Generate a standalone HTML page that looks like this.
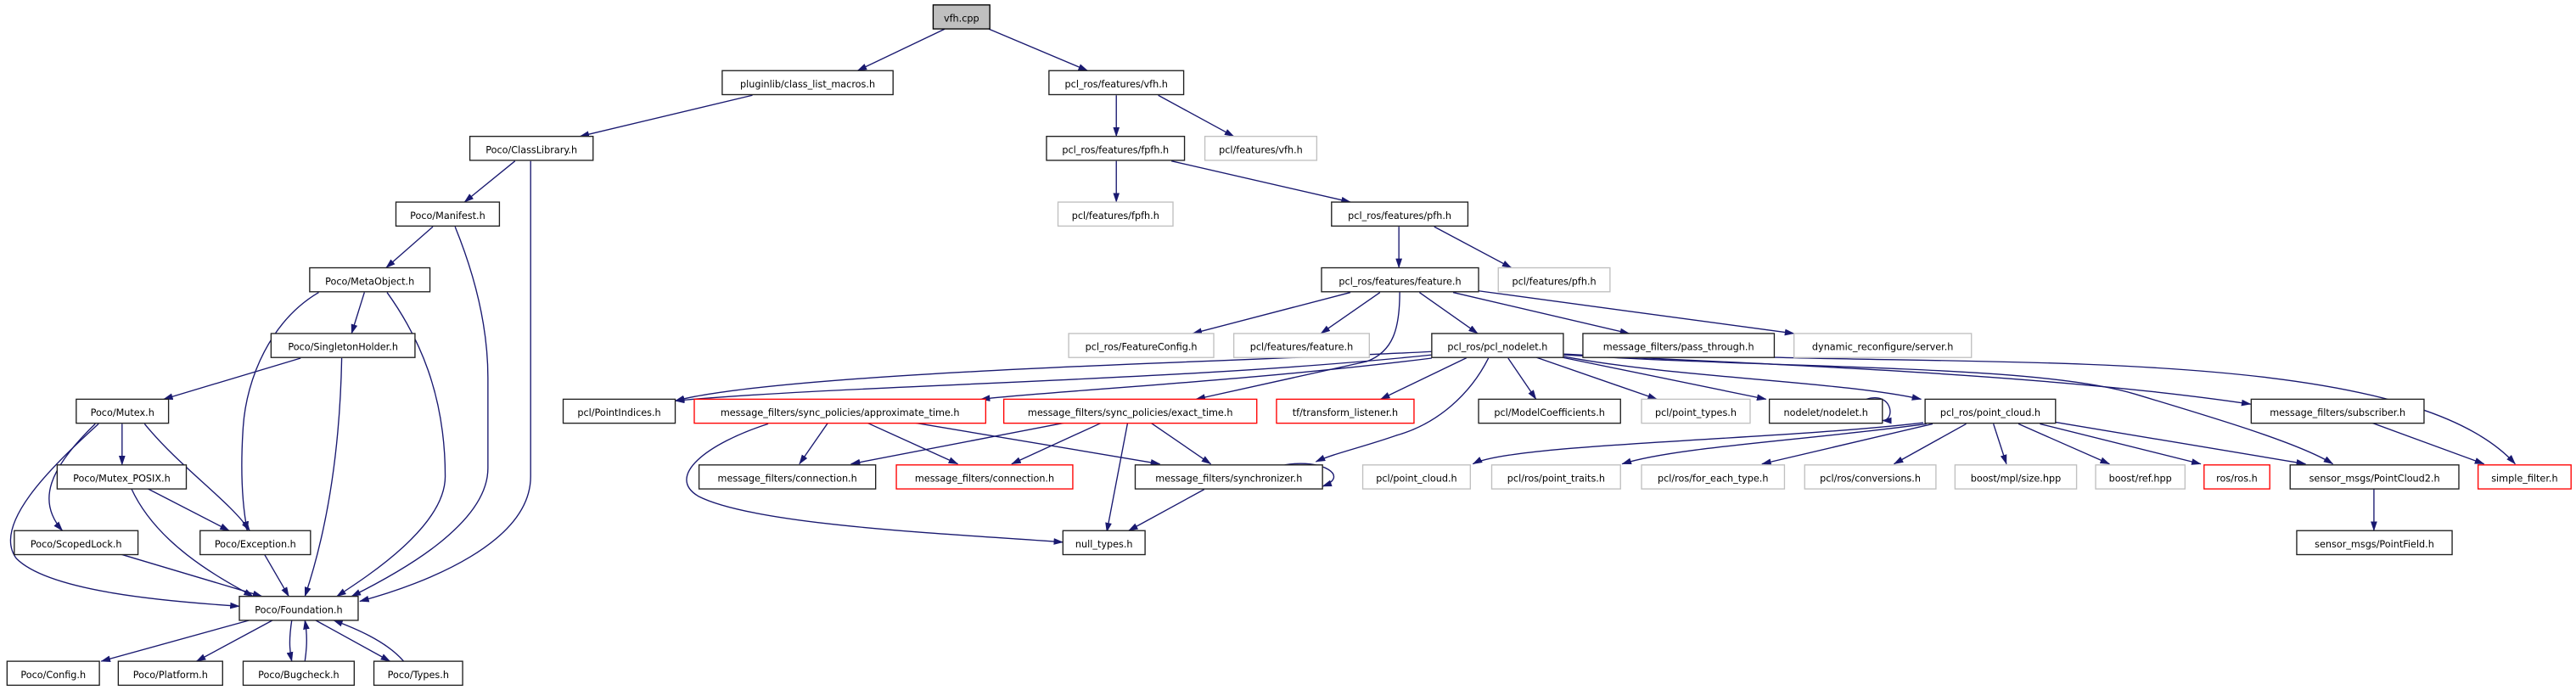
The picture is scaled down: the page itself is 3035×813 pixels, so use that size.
<!DOCTYPE html>
<html><head><meta charset="utf-8"><style>
html,body{margin:0;padding:0;background:#fff;}
svg{display:block;}
text{font-family:"DejaVu Sans","Liberation Sans",sans-serif;font-size:5.8px;fill:#000;text-anchor:middle;}
.b{fill:#fff;stroke:#202020;stroke-width:0.7;}
.g{fill:#fff;stroke:#c0c0c0;stroke-width:0.7;}
.r{fill:#fff;stroke:#ff0000;stroke-width:0.7;}
.e{fill:none;stroke:#191970;stroke-width:0.7;marker-end:url(#a);}
</style></head><body>
<svg width="3035" height="813" viewBox="0 0 1568 420" preserveAspectRatio="none" xmlns="http://www.w3.org/2000/svg">
<defs><marker id="a" markerUnits="userSpaceOnUse" markerWidth="6" markerHeight="4" refX="5.6" refY="2" orient="auto"><path d="M0,0 L6,2 L0,4 z" fill="#191970"/></marker></defs>
<rect width="1568" height="420" fill="#fff"/>
<g>
<path class="e" d="M602,17.7 L662,43"/>
<path class="e" d="M575,17.7 L522,43"/>
<path class="e" d="M458,58 L353,83"/>
<path class="e" d="M679.5,58 L679.5,83"/>
<path class="e" d="M705,58 L751,83"/>
<path class="e" d="M679.5,98 L679.5,123"/>
<path class="e" d="M713,98 L822,123"/>
<path class="e" d="M313.5,98 L282.7,123"/>
<path class="e" d="M323,98 L323,290 C323,330 260,355 219,366"/>
<path class="e" d="M263.5,138 L235,163"/>
<path class="e" d="M277,138 C290,170 297,200 297,230 L297,285 C297,320 240,350 214,363"/>
<path class="e" d="M851.5,138 L851.5,163"/>
<path class="e" d="M873,138 L920,163"/>
<path class="e" d="M221.8,178 L214,203"/>
<path class="e" d="M194,178 C165,195 150,230 148,260 C146,290 148,310 150.5,323"/>
<path class="e" d="M235.6,178 C255,205 271,240 271,290 C271,320 225,350 205,363"/>
<path class="e" d="M183,218 L99.6,243"/>
<path class="e" d="M208,218 C207,270 200,320 185.6,363"/>
<path class="e" d="M74.3,258 L74.3,283"/>
<path class="e" d="M88,258 C110,285 140,305 152,323"/>
<path class="e" d="M58,258 C30,285 22,305 38,323"/>
<path class="e" d="M60,258 C30,285 -5,320 10,340 C30,360 100,366 145.7,369"/>
<path class="e" d="M90,297.5 L139.5,323"/>
<path class="e" d="M80,297.5 C95,330 130,350 154,363"/>
<path class="e" d="M74,337.5 L159.5,363"/>
<path class="e" d="M161,337.5 L175.8,363"/>
<path class="e" d="M152,377.5 L61.6,402.5"/>
<path class="e" d="M166,377.5 L119.6,402.5"/>
<path class="e" d="M177.6,377.5 C176,388 176,395 177.6,402.5"/>
<path class="e" d="M185.6,402.5 C187,393 187,386 185.6,377.5"/>
<path class="e" d="M192,377.5 L237.4,402.5"/>
<path class="e" d="M245.7,402.5 C235,390 215,382 203,377.5"/>
<path class="e" d="M822,178 L726,203"/>
<path class="e" d="M840,178 L804,203"/>
<path class="e" d="M864,178 L899.5,203"/>
<path class="e" d="M884.5,178 L991.7,203"/>
<path class="e" d="M899.5,177 L1092,203"/>
<path class="e" d="M852,178 C852,200 848,214 832,220 L728,243"/>
<path class="e" d="M871.5,214 C760,220 480,226 411,244"/>
<path class="e" d="M871.5,216 C720,232 520,234 411,244"/>
<path class="e" d="M871.5,218 C760,232 640,238 597,243"/>
<path class="e" d="M892.7,217.8 L840.4,243"/>
<path class="e" d="M918,218 L935,243"/>
<path class="e" d="M906,218 C895,240 875,258 850,265 C830,272 812,276 801,281"/>
<path class="e" d="M935,217.5 L1008.6,243"/>
<path class="e" d="M950.6,217.5 L1075,243"/>
<path class="e" d="M952,217 C1020,230 1120,232 1169.4,243"/>
<path class="e" d="M952,216 C1100,225 1240,222 1300,240 C1350,255 1400,270 1420,282.4"/>
<path class="e" d="M952,215.5 C1080,222 1250,228 1370,246"/>
<path class="e" d="M1080,217.5 C1250,222 1470,215 1531,282.4"/>
<path class="e" d="M1136,243 C1152,238 1154,256 1145.8,256"/>
<path class="e" d="M1170.7,257.3 C1080,268 920,270 896.6,282.4"/>
<path class="e" d="M1172.6,258 C1100,268 1020,272 987.4,282.4"/>
<path class="e" d="M1176.4,258 L1072.5,282.4"/>
<path class="e" d="M1196.8,258 L1152.9,282.4"/>
<path class="e" d="M1213.4,258 L1221.3,282.4"/>
<path class="e" d="M1228.6,258 L1284,282.4"/>
<path class="e" d="M1241.7,258 L1339.6,282.4"/>
<path class="e" d="M1251,257 L1403.4,282.4"/>
<path class="e" d="M1443.5,257.3 L1512,282.4"/>
<path class="e" d="M1445,297.5 L1445,323"/>
<path class="e" d="M467.6,258 C430,270 405,290 425,302 C460,320 580,325 647,330"/>
<path class="e" d="M504,257.3 L486.6,282.4"/>
<path class="e" d="M527.7,257.3 L583,282.4"/>
<path class="e" d="M556.4,257.3 L706,282.4"/>
<path class="e" d="M648.4,257.3 L518,282.4"/>
<path class="e" d="M670.6,257.3 L615.8,282.4"/>
<path class="e" d="M686.4,257.3 L673.7,323.8"/>
<path class="e" d="M700.4,257.3 L737,282.4"/>
<path class="e" d="M733,297.9 L687,323"/>
<path class="e" d="M782,283 C805,279 822,290 805,296"/>
</g>
<g>
<rect x="568" y="3" width="34.5" height="14.6" fill="#bfbfbf" stroke="#000" stroke-width="0.7"/><text x="585.25" y="13.2">vfh.cpp</text>
<rect class="b" x="439.6" y="43" width="104" height="14.6"/><text x="491.6" y="53.2">pluginlib/class_list_macros.h</text>
<rect class="b" x="638.5" y="43" width="82" height="14.6"/><text x="679.5" y="53.2">pcl_ros/features/vfh.h</text>
<rect class="b" x="286" y="83" width="75" height="14.6"/><text x="323.5" y="93.2">Poco/ClassLibrary.h</text>
<rect class="b" x="637" y="83" width="84" height="14.6"/><text x="679" y="93.2">pcl_ros/features/fpfh.h</text>
<rect class="g" x="733.4" y="83" width="68.1" height="14.6"/><text x="767.45" y="93.2">pcl/features/vfh.h</text>
<rect class="b" x="241" y="123" width="63" height="14.6"/><text x="272.5" y="133.2">Poco/Manifest.h</text>
<rect class="g" x="644" y="123" width="70" height="14.6"/><text x="679" y="133.2">pcl/features/fpfh.h</text>
<rect class="b" x="810.5" y="123" width="83" height="14.6"/><text x="852" y="133.2">pcl_ros/features/pfh.h</text>
<rect class="b" x="188.5" y="163" width="73.2" height="14.6"/><text x="225.1" y="173.2">Poco/MetaObject.h</text>
<rect class="b" x="804.4" y="163" width="95.6" height="14.6"/><text x="852.2" y="173.2">pcl_ros/features/feature.h</text>
<rect class="g" x="912" y="163" width="68" height="14.6"/><text x="946" y="173.2">pcl/features/pfh.h</text>
<rect class="b" x="165" y="203" width="87.6" height="14.6"/><text x="208.8" y="213.2">Poco/SingletonHolder.h</text>
<rect class="g" x="650.5" y="203" width="88.3" height="14.6"/><text x="694.65" y="213.2">pcl_ros/FeatureConfig.h</text>
<rect class="g" x="751" y="203" width="82.5" height="14.6"/><text x="792.25" y="213.2">pcl/features/feature.h</text>
<rect class="b" x="871.5" y="203" width="80.1" height="14.6"/><text x="911.55" y="213.2">pcl_ros/pcl_nodelet.h</text>
<rect class="b" x="963.5" y="203" width="116.5" height="14.6"/><text x="1021.75" y="213.2">message_filters/pass_through.h</text>
<rect class="g" x="1092" y="203" width="108" height="14.6"/><text x="1146" y="213.2">dynamic_reconfigure/server.h</text>
<rect class="b" x="46.4" y="243" width="56.2" height="14.6"/><text x="74.5" y="253.2">Poco/Mutex.h</text>
<rect class="b" x="342.8" y="243" width="68.2" height="14.6"/><text x="376.9" y="253.2">pcl/PointIndices.h</text>
<rect class="r" x="422.6" y="243" width="177.4" height="14.6"/><text x="511.3" y="253.2">message_filters/sync_policies/approximate_time.h</text>
<rect class="r" x="611" y="243" width="154" height="14.6"/><text x="688" y="253.2">message_filters/sync_policies/exact_time.h</text>
<rect class="r" x="777" y="243" width="83.7" height="14.6"/><text x="818.85" y="253.2">tf/transform_listener.h</text>
<rect class="b" x="900" y="243" width="86.4" height="14.6"/><text x="943.2" y="253.2">pcl/ModelCoefficients.h</text>
<rect class="g" x="999.2" y="243" width="66.1" height="14.6"/><text x="1032.25" y="253.2">pcl/point_types.h</text>
<rect class="b" x="1077" y="243" width="68.8" height="14.6"/><text x="1111.4" y="253.2">nodelet/nodelet.h</text>
<rect class="b" x="1171.8" y="243" width="79.4" height="14.6"/><text x="1211.5" y="253.2">pcl_ros/point_cloud.h</text>
<rect class="b" x="1370.3" y="243" width="105.2" height="14.6"/><text x="1422.9" y="253.2">message_filters/subscriber.h</text>
<rect class="b" x="34.8" y="283" width="78.6" height="14.6"/><text x="74.1" y="293.2">Poco/Mutex_POSIX.h</text>
<rect class="b" x="425.5" y="283" width="107.5" height="14.6"/><text x="479.25" y="293.2">message_filters/connection.h</text>
<rect class="r" x="545.6" y="283" width="107.4" height="14.6"/><text x="599.3" y="293.2">message_filters/connection.h</text>
<rect class="b" x="691" y="283" width="114" height="14.6"/><text x="748" y="293.2">message_filters/synchronizer.h</text>
<rect class="g" x="829.5" y="283" width="65.5" height="14.6"/><text x="862.25" y="293.2">pcl/point_cloud.h</text>
<rect class="g" x="908" y="283" width="78.4" height="14.6"/><text x="947.2" y="293.2">pcl/ros/point_traits.h</text>
<rect class="g" x="999.2" y="283" width="87" height="14.6"/><text x="1042.7" y="293.2">pcl/ros/for_each_type.h</text>
<rect class="g" x="1098.5" y="283" width="79.9" height="14.6"/><text x="1138.45" y="293.2">pcl/ros/conversions.h</text>
<rect class="g" x="1190" y="283" width="74" height="14.6"/><text x="1227" y="293.2">boost/mpl/size.hpp</text>
<rect class="g" x="1275.6" y="283" width="54.4" height="14.6"/><text x="1302.8" y="293.2">boost/ref.hpp</text>
<rect class="r" x="1341.6" y="283" width="40" height="14.6"/><text x="1361.6" y="293.2">ros/ros.h</text>
<rect class="b" x="1394" y="283" width="102.7" height="14.6"/><text x="1445.35" y="293.2">sensor_msgs/PointCloud2.h</text>
<rect class="r" x="1508.4" y="283" width="56.6" height="14.6"/><text x="1536.7" y="293.2">simple_filter.h</text>
<rect class="b" x="8.7" y="323" width="75.3" height="14.6"/><text x="46.35" y="333.2">Poco/ScopedLock.h</text>
<rect class="b" x="121.8" y="323" width="67.2" height="14.6"/><text x="155.4" y="333.2">Poco/Exception.h</text>
<rect class="b" x="647" y="323" width="50" height="14.6"/><text x="672" y="333.2">null_types.h</text>
<rect class="b" x="1398" y="323" width="94.6" height="14.6"/><text x="1445.3" y="333.2">sensor_msgs/PointField.h</text>
<rect class="b" x="145.7" y="363" width="72.3" height="14.6"/><text x="181.85" y="373.2">Poco/Foundation.h</text>
<rect class="b" x="4.3" y="402.5" width="56.2" height="14.6"/><text x="32.4" y="412.7">Poco/Config.h</text>
<rect class="b" x="72" y="402.5" width="63.5" height="14.6"/><text x="103.75" y="412.7">Poco/Platform.h</text>
<rect class="b" x="148" y="402.5" width="67.6" height="14.6"/><text x="181.8" y="412.7">Poco/Bugcheck.h</text>
<rect class="b" x="227.6" y="402.5" width="54" height="14.6"/><text x="254.6" y="412.7">Poco/Types.h</text>
</g>
</svg>
</body></html>
